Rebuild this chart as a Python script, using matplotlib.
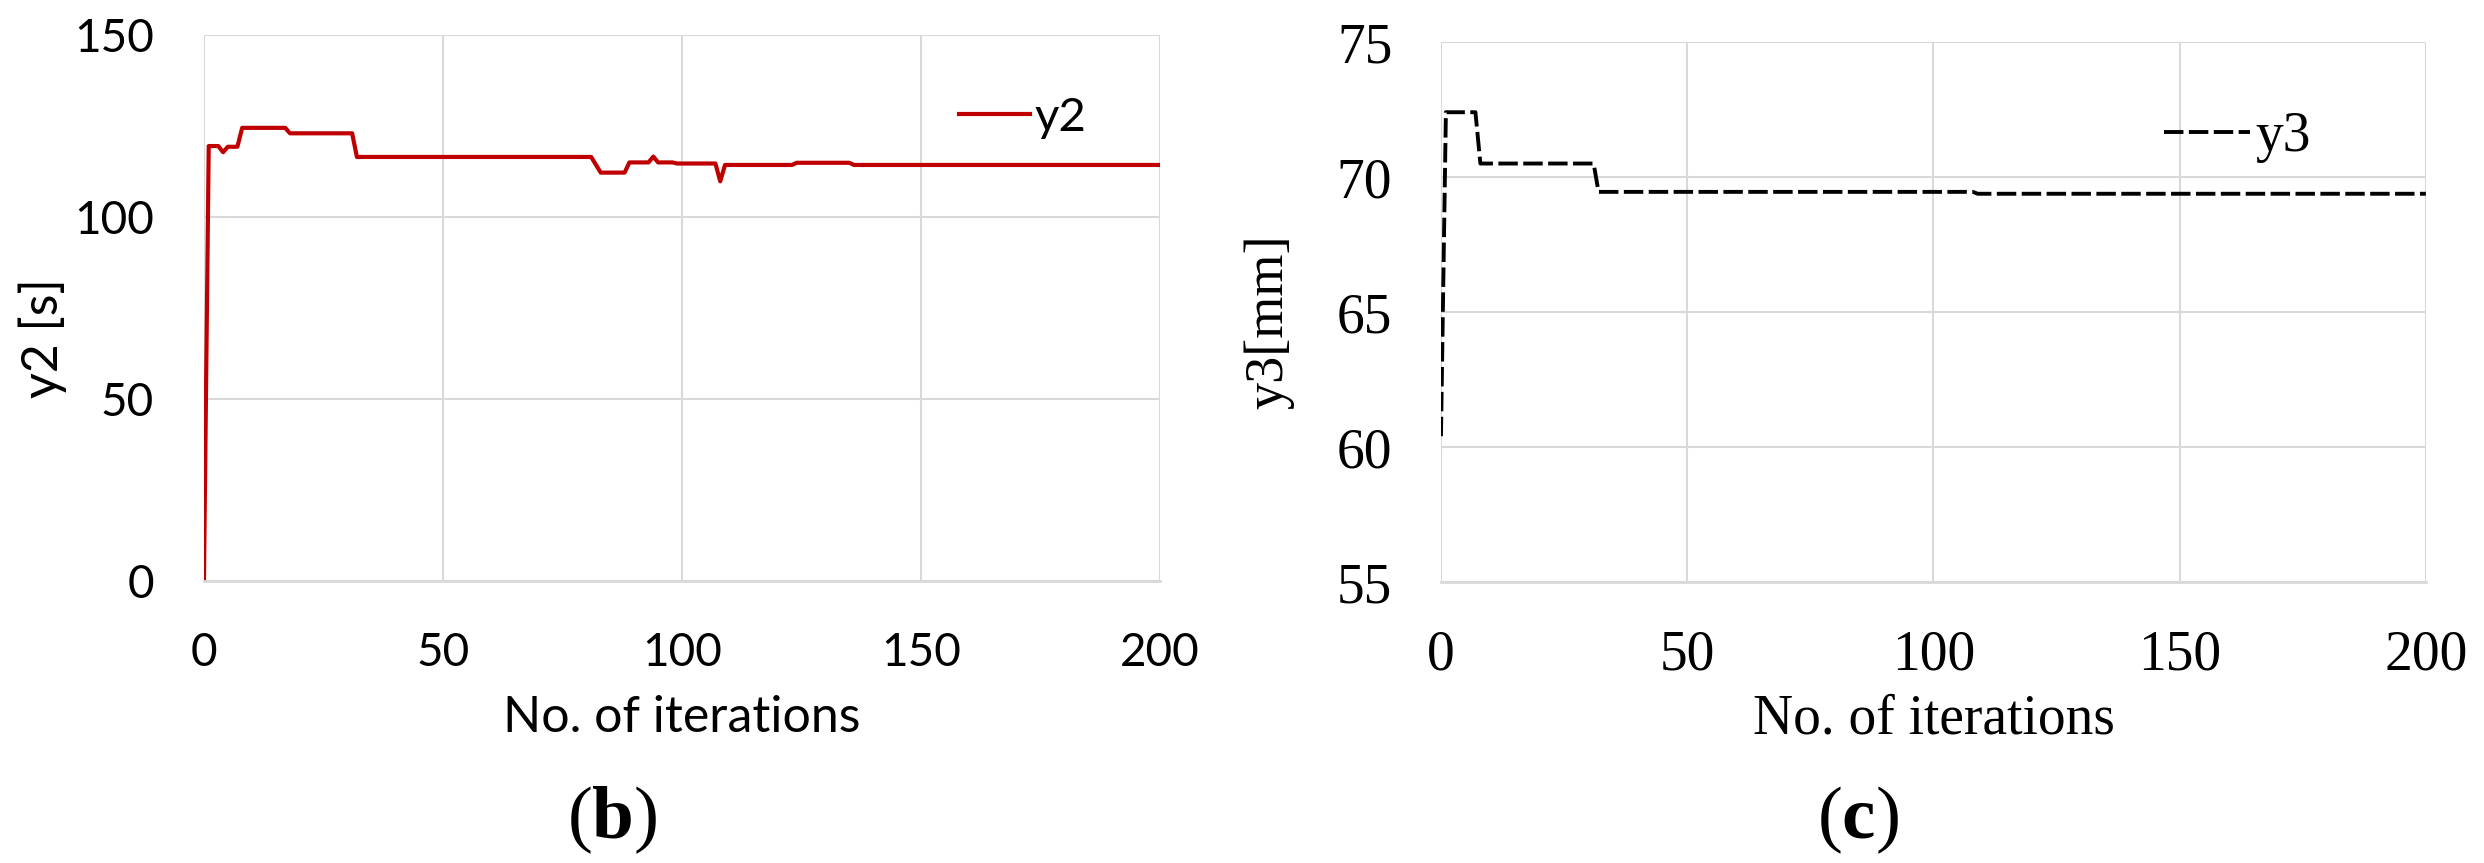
import matplotlib
matplotlib.use("Agg")
import matplotlib.pyplot as plt

# y2 convergence history (left panel)
y2_iter = [0, 1, 3, 4, 5, 7, 8, 17, 18, 31, 32, 81, 83, 88, 89, 93, 94, 95,
           98, 99, 107, 108, 109, 123, 124, 135, 136, 200]
y2_val = [0, 119.5, 119.5, 117.8, 119.3, 119.3, 124.5, 124.5, 123.0, 123.0,
          116.5, 116.5, 112.2, 112.2, 115.0, 115.0, 116.6, 115.0, 115.0,
          114.7, 114.7, 109.8, 114.3, 114.3, 114.9, 114.9, 114.3, 114.3]

# y3 convergence history (right panel)
y3_iter = [0, 1, 7, 8, 31, 32, 108, 109, 200]
y3_val = [60.4, 72.4, 72.4, 70.5, 70.5, 69.45, 69.45, 69.38, 69.38]

x_ticks = [0, 50, 100, 150, 200]
y2_ticks = [0, 50, 100, 150]
y3_ticks = [55, 60, 65, 70, 75]

plt.rcParams['mathtext.fontset'] = 'custom'
plt.rcParams['mathtext.rm'] = 'Liberation Serif'
plt.rcParams['mathtext.bf'] = 'Liberation Serif:bold'

grid_col = '#d9d9d9'
sans = 'Lato'
serif = 'Liberation Serif'


def style_axes(ax, fam, size, xpad, ypad):
    for s in ['top', 'right', 'left']:
        ax.spines[s].set_visible(False)
    ax.spines['bottom'].set_color(grid_col)
    ax.spines['bottom'].set_linewidth(2)
    ax.grid(True, color=grid_col, linewidth=1.5)
    ax.set_axisbelow(True)
    ax.tick_params(axis='both', length=0, labelsize=size)
    ax.tick_params(axis='x', pad=xpad)
    ax.tick_params(axis='y', pad=ypad)
    for lab in ax.get_xticklabels() + ax.get_yticklabels():
        lab.set_family(fam)


fig = plt.figure(figsize=(24.84, 8.63), dpi=100)

# left panel: y2
ax1 = fig.add_axes([0.0821, 0.3268, 0.3849, 0.6326])
ax1.plot(y2_iter, y2_val, color='#c00000', linewidth=3.0, label='y2')
ax1.set_xlim(0, 200)
ax1.set_ylim(0, 150)
ax1.set_xticks(x_ticks)
ax1.set_yticks(y2_ticks)
style_axes(ax1, sans, 33, 37, 36)
ax1.legend(loc='center left', bbox_to_anchor=(0.79, 0.848), frameon=False,
           borderpad=0, borderaxespad=0, handlelength=1.5, handletextpad=0.1,
           prop={'family': sans, 'size': 34})

fig.text(0.0173, 0.608, 'y2 [s]', rotation=90, ha='center', va='center',
         family=sans, fontsize=36)
fig.text(0.2746, 0.1518, 'No. of iterations', ha='center', va='baseline',
         family=sans, fontsize=36)
fig.text(0.2464, 0.0498, r'($\mathbf{b}$)', ha='center', va='center',
         family=serif, fontsize=54)

# right panel: y3
ax2 = fig.add_axes([0.5801, 0.3256, 0.3965, 0.6257])
ax2.plot(y3_iter, y3_val, color='black', linewidth=2.8, dashes=(5.0, 1.4),
         label='y3')
ax2.set_xlim(0, 200)
ax2.set_ylim(55, 75)
ax2.set_xticks(x_ticks)
ax2.set_yticks(y3_ticks)
style_axes(ax2, serif, 40, 34, 35)
ax2.legend(loc='center left', bbox_to_anchor=(0.734, 0.824), frameon=False,
           borderpad=0, borderaxespad=0, handlelength=1.55, handletextpad=0.1,
           prop={'family': serif, 'size': 40})

fig.text(0.5109, 0.6269, 'y3[mm]', rotation=90, ha='center', va='center',
         family=serif, fontsize=39)
fig.text(0.7786, 0.1506, 'No. of iterations', ha='center', va='baseline',
         family=serif, fontsize=40)
fig.text(0.748, 0.0498, r'($\mathbf{c}$)', ha='center', va='center',
         family=serif, fontsize=54)

fig.savefig('out.png', dpi=100)
